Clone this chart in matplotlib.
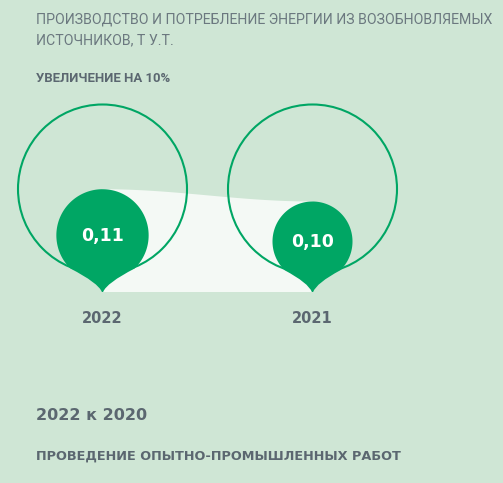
import numpy as np
import matplotlib.pyplot as plt
from matplotlib.path import Path
from matplotlib.patches import PathPatch, Circle, Polygon

# данные
years = ["2022", "2021"]
values = [0.11, 0.10]
value_labels = ["0,11", "0,10"]

title_lines = ["ПРОИЗВОДСТВО И ПОТРЕБЛЕНИЕ ЭНЕРГИИ ИЗ ВОЗОБНОВЛЯЕМЫХ",
               "ИСТОЧНИКОВ, Т У.Т."]
subtitle = "УВЕЛИЧЕНИЕ НА 10%"
note_1 = "2022 к 2020"
note_2 = "ПРОВЕДЕНИЕ ОПЫТНО-ПРОМЫШЛЕННЫХ РАБОТ"

BG = "#cfe6d5"
GREEN = "#00a664"
BAND = "#f4f9f5"
GREY = "#6b787f"
DARK_GREY = "#5b6770"

W, H = 503, 483
x_pos = [102.5, 312.5]
tip_y = 292
outer_r = 84.5
outer_cy = 189
tip_gap = 10.5
R_REF = 40  # радиус капли для значения 2021


def blob_path(cx, cy, r, ty, a=46):
    # капля: окружность + вогнутые "усики" к острию
    t = np.radians(np.linspace(180 - a, 360 + a, 120))
    xs = cx + r * np.cos(t)
    ys = cy + r * np.sin(t)
    verts = [(x, y) for x, y in zip(xs, ys)]
    codes = [Path.MOVETO] + [Path.LINETO] * (len(xs) - 1)
    verts += [(cx + 4, ty - 9), (cx + 0.6, ty), (cx - 0.6, ty), (cx - 4, ty - 9), (xs[0], ys[0])]
    codes += [Path.CURVE3, Path.CURVE3, Path.LINETO, Path.CURVE3, Path.CURVE3]
    return Path(verts, codes)


def fit_width(txt, width_px):
    # подгоняем кегль под ширину строки в эталоне
    fig.canvas.draw()
    w = txt.get_window_extent().width
    txt.set_fontsize(txt.get_fontsize() * width_px / w)


fig = plt.figure(figsize=(W / 100, H / 100), dpi=100, facecolor=BG)
ax = fig.add_axes([0, 0, 1, 1])
ax.set_facecolor(BG)
ax.set_xlim(0, W)
ax.set_ylim(H, 0)
ax.axis("off")

radii = [R_REF * (v / values[-1]) ** 1.5 for v in values]
tops = [tip_y - tip_gap - 2 * r for r in radii]

# светлая полоса между каплями
x0, x1 = x_pos
tt = np.linspace(0, 1, 60)
bx = (1 - tt) ** 3 * x0 + 3 * (1 - tt) ** 2 * tt * (x0 + 75) + 3 * (1 - tt) * tt ** 2 * (x1 - 75) + tt ** 3 * x1
by = (1 - tt) ** 3 * tops[0] + 3 * (1 - tt) ** 2 * tt * tops[0] + 3 * (1 - tt) * tt ** 2 * tops[1] + tt ** 3 * tops[1]
band = np.column_stack([np.r_[bx, x1, x0], np.r_[by, tip_y, tip_y]])
ax.add_patch(Polygon(band, closed=True, facecolor=BAND, edgecolor="none", zorder=1))

for x, r, lab, yr in zip(x_pos, radii, value_labels, years):
    ax.add_patch(Circle((x, outer_cy), outer_r, facecolor="none", edgecolor=GREEN, lw=1.5, zorder=2))
    cy = tip_y - tip_gap - r
    ax.add_patch(PathPatch(blob_path(x, cy, r, tip_y), facecolor=GREEN, edgecolor="none", zorder=3))
    ax.text(x, cy + 6, lab, color="white", fontsize=12.5, fontweight="bold",
            ha="center", va="baseline", zorder=4)
    ax.text(x, 323, yr, color=DARK_GREY, fontsize=10.5, fontweight="bold",
            ha="center", va="baseline")

narrow = ["Roboto", "DejaVu Sans"]
t1 = ax.text(36, 23.5, title_lines[0], color=GREY, fontsize=10.5, family=narrow, va="baseline")
t2 = ax.text(36, 44.5, title_lines[1], color=GREY, fontsize=10.5, family=narrow, va="baseline")
t3 = ax.text(36, 82, subtitle, color=DARK_GREY, fontsize=9, fontweight="bold", family=narrow, va="baseline")
t4 = ax.text(36, 420, note_1, color=DARK_GREY, fontsize=11.5, fontweight="bold", va="baseline")
t5 = ax.text(36, 460, note_2, color=DARK_GREY, fontsize=9.3, fontweight="bold", va="baseline")

fit_width(t1, 456)
t2.set_fontsize(t1.get_fontsize())
fit_width(t3, 134)

fig.savefig("out.png", dpi=100, facecolor=BG)
